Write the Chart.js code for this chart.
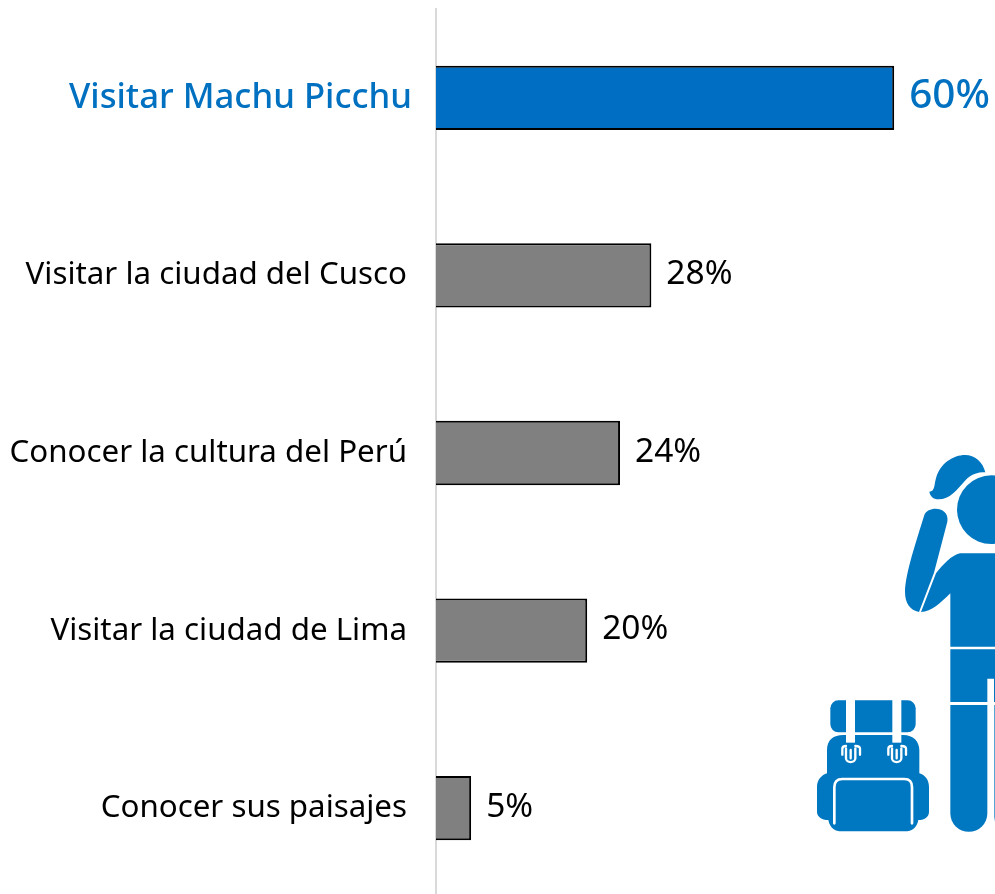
<!DOCTYPE html>
<html><head><meta charset="utf-8">
<style>
html,body{margin:0;padding:0;background:#fff;overflow:hidden;width:995px;height:894px}
#wrap{position:relative;width:995px;height:897px}
#ill{position:absolute;left:800px;top:440px;width:195px;height:410px}
</style>
<script src="https://cdn.jsdelivr.net/npm/chart.js@4"></script>
</head><body>
<div id="wrap"><canvas id="c" width="995" height="897"></canvas>
<svg id="ill" viewBox="0 0 585 1230" aria-hidden="true">
<g fill="#0078C1">
<path d="M388 155C405 155 402 135 408 115C420 70 460 45 495 45C525 45 548 65 556 97C530 97 515 102 495 122C470 150 450 178 415 178C400 178 390 168 388 155Z"/>
<circle cx="574" cy="209" r="103"/>
<path d="M373 225C385 195 450 200 442 245L402 398L357 516C330 510 315 490 315 455C316 400 350 300 373 225Z"/>
<path d="M585 340L480 340C455 345 428 375 408 400L363 516C395 515 420 490 451 460L451 620L585 620Z"/>
<path d="M451 628H585V786H582V716H562V786H451Z"/>
<path d="M451 795H562V1120A55.500 55.500 0 0 1 451 1120Z"/>
<path d="M583 795H585V1145L583 1130Z"/>
<rect x="91" y="781" width="256" height="96" rx="24"/>
<path d="M81 1000V930C81 900 100 885 130 885H310C340 885 358 905 358 930V1000C375 1005 387 1020 387 1040V1115C387 1130 375 1140 355 1140C350 1165 335 1174 315 1174H125C105 1174 90 1165 85 1140C65 1140 51 1130 51 1115V1040C51 1020 65 1005 81 1000Z"/>
</g>
<g fill="#fff">
<rect x="138" y="775" width="27" height="133"/>
<rect x="277" y="775" width="27" height="133"/>
</g>
<g fill="none" stroke="#fff" stroke-width="7" stroke-linecap="round">
<path d="M127 944V926C127 920 132 918 138 918M180 944V926C180 920 175 918 166 918"/>
<path d="M265 944V926C265 920 270 918 276 918M318 944V926C318 920 313 918 304 918"/>
<path d="M138 925V955C138 970 166 970 166 955V925M152 930V955"/>
<path d="M276 925V955C276 970 304 970 304 955V925M290 930V955"/>
<path stroke-width="8" d="M103 1150V1042C103 1025 110 1017 127 1017H313C330 1017 336 1025 336 1042V1150"/>
</g>
</svg></div>
<script>
const categories=["Visitar Machu Picchu","Visitar la ciudad del Cusco","Conocer la cultura del Perú","Visitar la ciudad de Lima","Conocer sus paisajes"];
const shares=[60,28.2,24.1,19.8,4.6];
const valueLabels=["60%","28%","24%","20%","5%"];
const barColors=["#006FC3","#808080","#808080","#808080","#808080"];
const labelColors=["#0070C0","#000000","#000000","#000000","#000000"];
const FAM='"Noto Sans"';
const valueLabelPlugin={id:'valueLabels',afterDatasetsDraw(chart){
  const ctx=chart.ctx,meta=chart.getDatasetMeta(0);
  ctx.save();ctx.textAlign='left';ctx.textBaseline='middle';
  meta.data.forEach((bar,i)=>{
    ctx.fillStyle=labelColors[i];
    ctx.font=(i===0?'500 40.500px ':'400 33.500px ')+FAM;
    ctx.fillText(valueLabels[i],bar.x+15,bar.y-1);
  });
  ctx.restore();
}};
new Chart(document.getElementById('c'),{
  type:'bar',
  data:{labels:categories,datasets:[{data:shares,backgroundColor:barColors,borderColor:'#000000',borderWidth:2,barPercentage:0.362,categoryPercentage:1}]},
  options:{indexAxis:'y',responsive:false,animation:false,
    layout:{padding:{top:9,left:1,right:0,bottom:0}},
    plugins:{legend:{display:false},tooltip:{enabled:false}},
    scales:{
      x:{display:false,min:0,max:73.2,grid:{display:false}},
      y:{grid:{display:false,drawTicks:false},border:{display:true,color:'#D9D9D9',width:2},
        afterFit(s){
          s.width=435;s.paddingTop=0;s.paddingBottom=0;
          if(!s._leadShift){
            s._leadShift=true;
            const orig=s._computeLabelItems;
            s._computeLabelItems=function(area){
              const items=orig.call(this,area);
              items[0].options.translation[0]+=5;
              return items;
            };
          }
        },
        ticks:{padding:29,autoSkip:false,
          color:c=>labelColors[c.index],
          font:c=>c.index===0?{family:FAM,size:34.7,weight:'500'}:{family:FAM,size:31.3,weight:'400'}}}
    }},
  plugins:[valueLabelPlugin]
});
</script>
</body></html>
